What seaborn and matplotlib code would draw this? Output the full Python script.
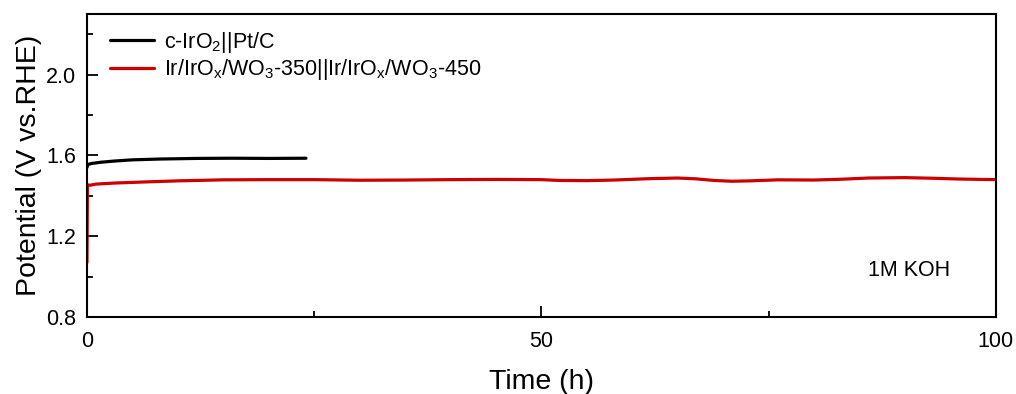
import matplotlib
matplotlib.use("Agg")
import matplotlib.pyplot as plt
import seaborn as sns
import pandas as pd
from matplotlib.ticker import MultipleLocator

# ---- data ----
black_time = [0, 0.1, 0.5, 1.5, 3, 5, 8, 12, 16, 20, 24.1]
black_pot = [1.54, 1.555, 1.56, 1.566, 1.572, 1.578, 1.582, 1.585, 1.586, 1.585, 1.586]

red_time = [0, 0.05, 0.3, 1, 3, 6, 10, 15, 20, 25, 30, 35, 40, 45, 50, 52, 55,
            58, 62, 65, 67, 69, 71, 73, 76, 80, 83, 86, 90, 93, 96, 100]
red_pot = [1.07, 1.455, 1.452, 1.458, 1.463, 1.468, 1.474, 1.479, 1.48, 1.48,
           1.477, 1.478, 1.48, 1.481, 1.48, 1.476, 1.475, 1.478, 1.485, 1.488,
           1.484, 1.476, 1.472, 1.474, 1.479, 1.478, 1.482, 1.488, 1.49, 1.487,
           1.483, 1.48]

series_labels = [r"c-IrO$_2$||Pt/C",
                 r"Ir/IrO$_x$/WO$_3$-350||Ir/IrO$_x$/WO$_3$-450"]
x_ticks = [0, 50, 100]
y_ticks = [0.8, 1.2, 1.6, 2.0]
annotation = "1M KOH"

df = pd.concat([
    pd.DataFrame({"Time": black_time, "Potential": black_pot, "Sample": series_labels[0]}),
    pd.DataFrame({"Time": red_time, "Potential": red_pot, "Sample": series_labels[1]}),
], ignore_index=True)

sns.set_style("ticks")
plt.rcParams["font.family"] = ["Liberation Sans", "DejaVu Sans"]
plt.rcParams["mathtext.fontset"] = "custom"
plt.rcParams["mathtext.rm"] = "Liberation Sans"
plt.rcParams["mathtext.it"] = "Liberation Sans"
plt.rcParams["mathtext.default"] = "regular"
for k in ["text.color", "axes.labelcolor", "xtick.color", "ytick.color",
          "axes.edgecolor"]:
    plt.rcParams[k] = "black"

fig = plt.figure(figsize=(10.16, 3.94), dpi=100)
ax = fig.add_axes([0.0856, 0.1954, 0.980 - 0.0856, 0.9645 - 0.1954])

sns.lineplot(data=df, x="Time", y="Potential", hue="Sample",
             palette=["#000000", "#CC0000"], linewidth=2.3, ax=ax,
             sort=False, estimator=None)

ax.set_xlim(0, 100)
ax.set_ylim(0.8, 2.3)
ax.set_xticks(x_ticks)
ax.set_yticks(y_ticks)
ax.set_yticklabels([f"{v:.1f}" for v in y_ticks])
ax.xaxis.set_minor_locator(MultipleLocator(25))
ax.yaxis.set_minor_locator(MultipleLocator(0.2))
ax.tick_params(which="major", direction="in", length=8, width=1.3,
               labelsize=15.5, pad=8)
ax.tick_params(which="minor", direction="in", length=4.3, width=1.3)
ax.tick_params(axis="x", which="major", pad=10)
for s in ax.spines.values():
    s.set_linewidth(1.5)
    s.set_visible(True)

ax.set_xlabel("Time (h)", fontsize=20.5, labelpad=12)
ax.set_ylabel("Potential (V vs.RHE)", fontsize=20.5, labelpad=3)

ax.text(85.9, 1.03, annotation, fontsize=15.5, ha="left", va="center")

leg = ax.legend(loc="upper left", frameon=False, fontsize=15.5,
                handlelength=2.05, handletextpad=0.47, labelspacing=0.12,
                borderpad=0.0, borderaxespad=0.0,
                bbox_to_anchor=(0.0253, 0.948))
for line in leg.get_lines():
    line.set_linewidth(2.3)

fig.savefig("out.png", dpi=100)
